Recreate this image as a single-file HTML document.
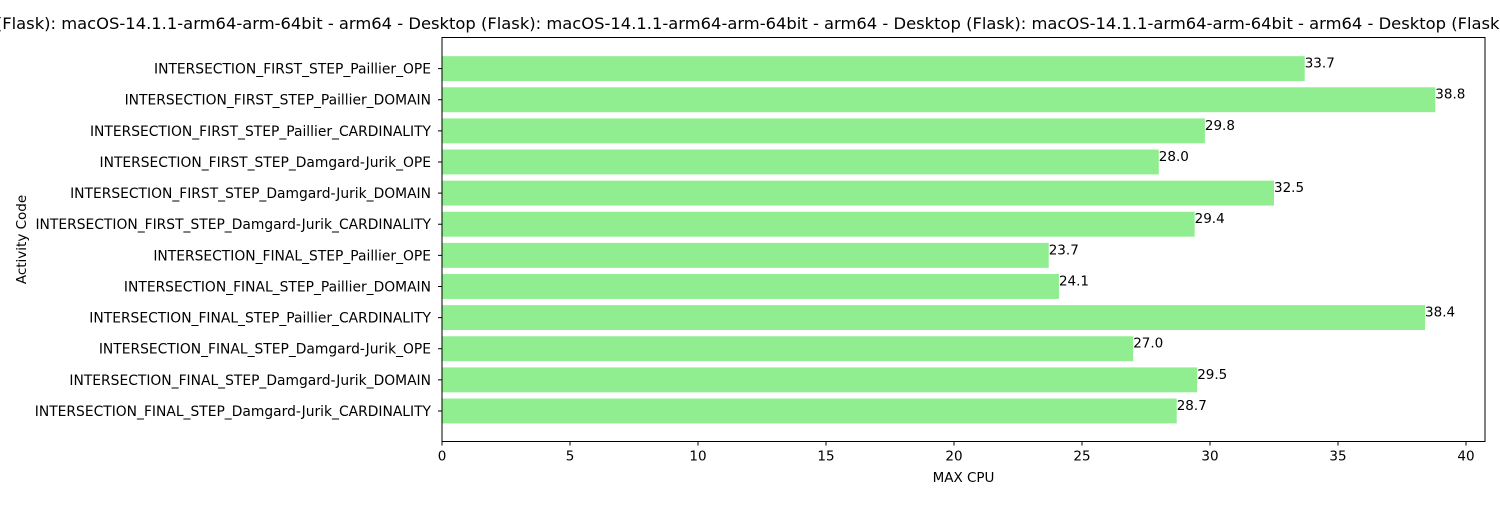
<!DOCTYPE html>
<html><head><meta charset="utf-8"><style>
body{margin:0;background:#fff;width:1500px;height:500px;overflow:hidden;font-family:"Liberation Sans","DejaVu Sans",sans-serif}
svg text{font-family:"DejaVu Sans","Liberation Sans",sans-serif}
</style></head><body>
<svg id="chart" width="1500" height="500" xmlns="http://www.w3.org/2000/svg">
<text x="749" y="29" font-size="16.35" text-anchor="middle">Desktop (Flask): macOS-14.1.1-arm64-arm-64bit - arm64 - Desktop (Flask): macOS-14.1.1-arm64-arm-64bit - arm64 - Desktop (Flask): macOS-14.1.1-arm64-arm-64bit - arm64 - Desktop (Flask): macOS</text>
<g id="plot"></g>
</svg>
<script>
const categories=["INTERSECTION_FIRST_STEP_Paillier_OPE","INTERSECTION_FIRST_STEP_Paillier_DOMAIN","INTERSECTION_FIRST_STEP_Paillier_CARDINALITY","INTERSECTION_FIRST_STEP_Damgard-Jurik_OPE","INTERSECTION_FIRST_STEP_Damgard-Jurik_DOMAIN","INTERSECTION_FIRST_STEP_Damgard-Jurik_CARDINALITY","INTERSECTION_FINAL_STEP_Paillier_OPE","INTERSECTION_FINAL_STEP_Paillier_DOMAIN","INTERSECTION_FINAL_STEP_Paillier_CARDINALITY","INTERSECTION_FINAL_STEP_Damgard-Jurik_OPE","INTERSECTION_FINAL_STEP_Damgard-Jurik_DOMAIN","INTERSECTION_FINAL_STEP_Damgard-Jurik_CARDINALITY"];
const values=[33.7,38.8,29.8,28.0,32.5,29.4,23.7,24.1,38.4,27.0,29.5,28.7];
const xTicks=[0,5,10,15,20,25,30,35,40];
const L=442,R=1485,T=37.5,B=441.5;
const x=v=>L+v*25.6;
const step=(B-T)/(categories.length-1+1.98);
const y=i=>T+0.3+(0.99+i)*step;
const bh=step*0.8;
const g=document.getElementById('plot');
const NS='http://www.w3.org/2000/svg';
function mk(t,a,txt){const e=document.createElementNS(NS,t);for(const k in a)e.setAttribute(k,a[k]);if(txt!=null)e.textContent=txt;g.appendChild(e);return e;}
values.forEach((v,i)=>{
 const r=mk('rect',{x:x(0),y:y(i)-bh/2,width:x(v)-x(0),height:bh,fill:'#90ee90'});
 
 
 const t=mk('text',{x:x(v),y:y(i)-1,'font-size':13.5},v.toFixed(1));
 
 
 const c=mk('text',{x:L-11,y:y(i)+5,'font-size':13.85,'text-anchor':'end'},categories[i]);
 
 
 const tk=mk('line',{x1:L-4,x2:L,y1:y(i),y2:y(i),stroke:'#000','stroke-width':1});
 
 
});
xTicks.forEach(v=>{
 const tk=mk('line',{x1:x(v),x2:x(v),y1:B,y2:B+4,stroke:'#000','stroke-width':1});
 
 
 const t=mk('text',{x:x(v),y:B+19,'font-size':13.5,'text-anchor':'middle'},v);
 
 
});
const fr=mk('rect',{x:L,y:T,width:R-L,height:B-T,fill:'none',stroke:'#000','stroke-width':1});


const xl=mk('text',{x:(L+R)/2,y:482,'font-size':13.5,'text-anchor':'middle'},'MAX CPU');


const yl=mk('text',{x:26,y:(T+B)/2,'font-size':13.5,'text-anchor':'middle',transform:'rotate(-90 26 '+((T+B)/2)+')'},'Activity Code');


</script>
</body></html>
